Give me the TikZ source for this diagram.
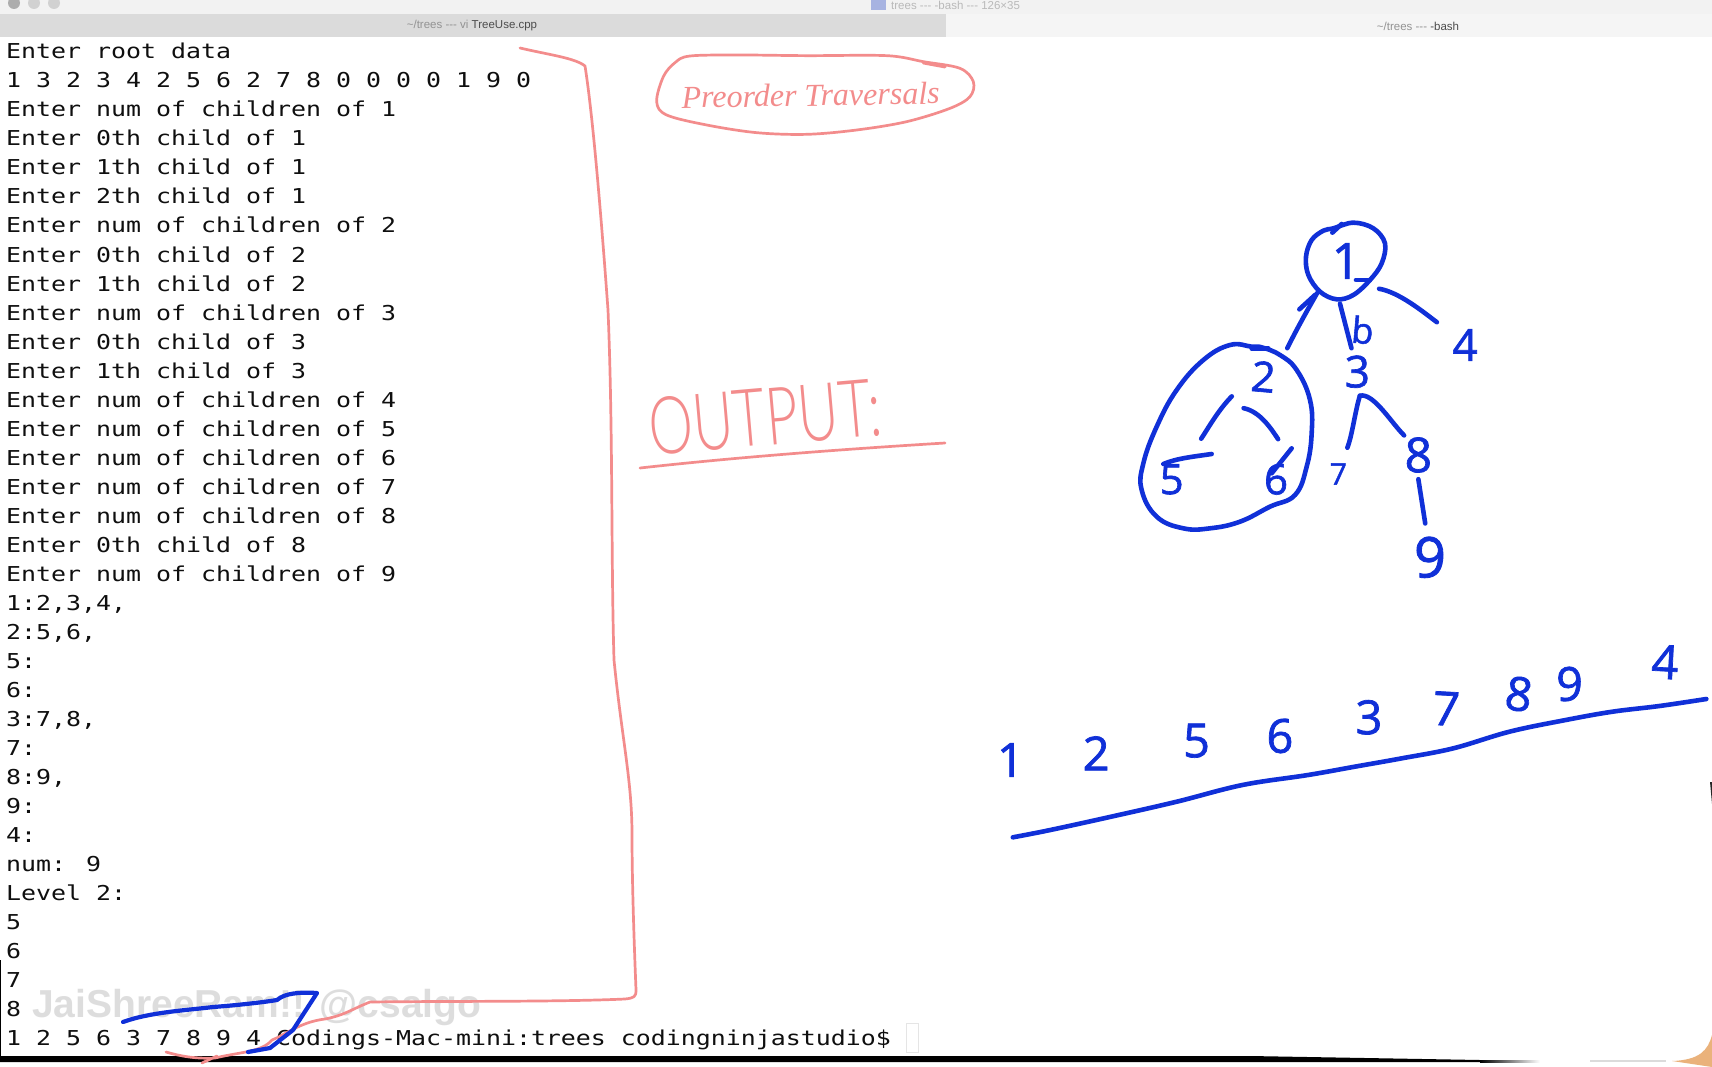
\documentclass[tikz,border=0pt]{standalone}
\usepackage{fontspec}
\usepackage{graphicx}
\usetikzlibrary{calc}
\newfontfamily\termfont[FakeStretch=1.215]{DejaVu Sans Mono}
\newfontfamily\uifont{Liberation Sans}
\newfontfamily\handscript{Liberation Serif}
\newfontfamily\digfont[FakeBold=1.5]{Open Sans}
\newfontfamily\outfont{Lato}[UprightFont=* Light,FakeStretch=.70]
\definecolor{ink}{RGB}{16,48,216}
\definecolor{pen}{RGB}{243,140,140}
\definecolor{termtext}{RGB}{15,15,15}
\tikzset{
  inkline/.style={draw=ink,line width=4.6pt,line cap=round,line join=round},
  penline/.style={draw=pen,line width=2.7pt,line cap=round,line join=round},
  termline/.style={anchor=base west,inner sep=0pt,text=termtext,font=\termfont\fontsize{20.5}{24}\selectfont},
  dig/.style={font=\digfont\fontsize{#1}{#1}\selectfont,text=ink,circle,inner sep=0pt},
  ui/.style={inner sep=0pt,font=\uifont\fontsize{11.5}{13}\selectfont,text=gray!85},
  wmark/.style={anchor=base west,inner sep=0pt,font=\uifont\bfseries\fontsize{39}{41}\selectfont}
}
\newcommand\putline[2]{\node[termline] (t#1) at (6,{30+29*#1}) {#2};}
\begin{document}
\begin{tikzpicture}[x=1pt,y=-1pt]
\useasboundingbox (0,0) rectangle (1712,1067);
\fill[white] (0,0) rectangle (1712,1067);
% window chrome
\fill[black!5] (0,0) rectangle (1712,14);
\fill[black!14] (0,14) rectangle (946,37);
\fill[black!4] (946,14) rectangle (1712,37);
\foreach \cx/\cc in {14/black!32,34/black!18,54/black!18}{\fill[\cc] (\cx,3) circle[radius=6];}
\fill[cyan!35!blue!35!white] (871,0) rectangle (886,10);
\node[ui,anchor=west,text=gray!55] (title) at (891,5) {trees --- -bash --- 126×35};
\node[ui] (tabl) at (472,26) {\textasciitilde/trees --- vi \textcolor{black!70}{TreeUse.cpp}};
\node[ui] (tabr) at (1418,26) {\textasciitilde/trees --- \textcolor{black!70}{-bash}};
% terminal text
\putline{1}{Enter root data}
\putline{2}{1 3 2 3 4 2 5 6 2 7 8 0 0 0 0 1 9 0}
\putline{3}{Enter num of children of 1}
\putline{4}{Enter 0th child of 1}
\putline{5}{Enter 1th child of 1}
\putline{6}{Enter 2th child of 1}
\putline{7}{Enter num of children of 2}
\putline{8}{Enter 0th child of 2}
\putline{9}{Enter 1th child of 2}
\putline{10}{Enter num of children of 3}
\putline{11}{Enter 0th child of 3}
\putline{12}{Enter 1th child of 3}
\putline{13}{Enter num of children of 4}
\putline{14}{Enter num of children of 5}
\putline{15}{Enter num of children of 6}
\putline{16}{Enter num of children of 7}
\putline{17}{Enter num of children of 8}
\putline{18}{Enter 0th child of 8}
\putline{19}{Enter num of children of 9}
\putline{20}{1:2,3,4,}
\putline{21}{2:5,6,}
\putline{22}{5:}
\putline{23}{6:}
\putline{24}{3:7,8,}
\putline{25}{7:}
\putline{26}{8:9,}
\putline{27}{9:}
\putline{28}{4:}
\putline{29}{num: 9}
\putline{30}{Level 2:}
\putline{31}{5}
\putline{32}{6}
\putline{33}{7}
\putline{34}{8}
\putline{35}{1 2 5 6 3 7 8 9 4 Codings-Mac-mini:trees codingninjastudio\$}
\draw[black!10,line width=1pt] (906,1023) rectangle (918,1052);
% bottom edge
\fill[black] (0,1056) -- (1250,1056) -- (1480,1060) -- (1480,1062) -- (0,1062) -- cycle;
\shade[left color=black,right color=white,shading angle=90] (1480,1060) rectangle (1540,1062);
\fill[black!14] (1590,1060) rectangle (1666,1062);
\fill[black] (0,960) rectangle (1,1062);
\fill[orange!45!brown!60!white] (1712,1035) .. controls (1708,1050) and (1700,1060) .. (1672,1061) -- (1712,1067) -- cycle;
\fill[black!85] (1710,782) -- (1712,782) -- (1712,804) -- cycle;
% watermark
\node[wmark,text=black!14,opacity=.92] (wm) at (32,1017) {JaiShreeRam!! @csalgo};
% red ink: bracket
\draw[penline] (520,48) .. controls (550,55) and (575,58) .. (585,66)
  .. controls (592,110) and (600,200) .. (608,310)
  .. controls (613,430) and (611,560) .. (614,660)
  .. controls (622,740) and (632,780) .. (632,835)
  .. controls (632,880) and (634,940) .. (636,990)
  .. controls (636,997) and (634,998) .. (625,999)
  .. controls (560,1002) and (450,1001) .. (370,1002)
  .. controls (350,1010) and (345,1015) .. (325,1019)
  .. controls (300,1022) and (285,1035) .. (272,1040)
  .. controls (262,1052) and (240,1052) .. (215,1058)
  .. controls (195,1059) and (180,1056) .. (166,1052);
\draw[penline] (217,1056) -- (202,1063);
% red ink: title oval
\begin{scope}[shift={(640,40)},scale=.33333]
\draw[penline] plot[smooth cycle,tension=.55] coordinates {(150,48)(300,45)(500,47)(740,47)(850,65)(960,85)(1000,125)(990,170)(930,205)(800,245)(650,270)(500,283)(350,278)(200,255)(80,225)(50,185)(70,110)(105,68)};
\draw[penline,line width=3.5pt] (850,68) -- (915,80);
\node[inner sep=0pt,rotate=1,text=pen,font=\handscript\itshape\fontsize{32}{34}\selectfont] (pre) at (512,165) {Preorder Traversals};
\end{scope}
% red ink: OUTPUT
\node[inner sep=0pt,rotate=5,text=pen,font=\outfont\fontsize{80}{84}\selectfont] (out) at (765,417) {OUTPUT:};
\coordinate (oa) at (640,468);
\coordinate (ob) at (945,443);
\draw[penline] (oa) .. controls (730,458) and (830,450) .. (ob);
% blue tree
\begin{scope}[shift={(1120,200)},scale=.33333]
\node[dig=50,minimum size=86pt] (n1) at (678,183) {1};
\node[dig=42,minimum size=74pt,rotate=-5] (n2) at (430,530) {2};
\node[dig=44,minimum size=48pt] (n3) at (712,515) {3};
\node[dig=44,minimum size=72pt] (n4) at (1035,435) {4};
\node[dig=42,minimum size=100pt] (n5) at (155,838) {5};
\node[dig=42,minimum size=80pt] (n6) at (468,838) {6};
\node[dig=30,minimum size=55pt] (n7) at (655,822) {7};
\node[dig=48,minimum size=48pt] (n8) at (895,765) {8};
\node[dig=56,minimum size=68pt] (n9) at (930,1072) {9};
\node[dig=36,inner sep=0pt,rotate=-5] (lb) at (728,390) {b};
\draw[inkline] plot[smooth cycle,tension=.6] coordinates {(640,85)(700,68)(760,85)(795,130)(785,190)(750,240)(700,285)(650,298)(600,275)(565,225)(558,170)(575,120)(610,92)};
\draw[inkline] (637,98) -- (665,72);
\draw[inkline] (538,328) -- (585,285);
\draw[inkline] (708,240) -- (750,240);
\draw[inkline] plot[smooth cycle,tension=.7] coordinates {(395,440)(330,435)(250,480)(170,570)(110,680)(70,790)(65,870)(110,950)(190,985)(270,985)(360,965)(450,920)(525,885)(560,800)(575,700)(570,600)(530,510)(480,465)(425,442)};
\draw[inkline] (395,445) -- (445,445);
\draw[inkline] (130,792) .. controls (170,775) and (220,770) .. (275,762);
\draw[inkline] (515,745) -- (455,820);
\draw[inkline] (n1.-132) .. controls +(-40,70) and +(25,-50) .. (n2.55);
\draw[inkline] (n1.-98) -- (n3.104);
\draw[inkline] (n1.-40) .. controls +(60,10) and +(-40,-30) .. (n4.141);
\draw[inkline] (n2.-143) .. controls +(-40,40) and +(20,-30) .. (n5.54);
\draw[inkline] (n2.-117) .. controls +(50,10) and +(-20,-30) .. (n6.87);
\draw[inkline] (n3.-84) .. controls +(-15,50) and +(15,-40) .. (n7.71);
\draw[inkline] (n3.-84) .. controls +(40,-10) and +(-40,-40) .. (n8.126);
\draw[inkline] (n8.-90) -- (n9.98);
\end{scope}
% blue sequence
\begin{scope}[shift={(980,620)},xscale=.46860,yscale=.33333]
\foreach \nm/\tx/\px/\py/\rt in {s1/1/65/420/0,s2/2/248/400/0,s3/5/462/362/0,s4/6/640/348/0,s5/3/830/292/0,s6/7/995/266/-3,s7/8/1150/222/-8,s8/9/1258/192/0,s9/4/1462/126/-3}{
  \node[dig=47,rotate=\rt] (\nm) at (\px,\py) {\tx};
}
\draw[inkline] plot[smooth,tension=.6] coordinates {(70,652)(150,630)(280,590)(420,545)(560,495)(700,465)(800,440)(900,415)(1010,385)(1130,335)(1250,300)(1350,275)(1450,258)(1550,237)};
\end{scope}
% blue check over the terminal
\draw[inkline,line width=4.2pt] (123,1022) .. controls (150,1012) and (190,1010) .. (213,1007)
  .. controls (240,1005) and (265,1002) .. (277,1000)
  .. controls (285,993) and (300,992) .. (317,993)
  -- (293,1030) -- (270,1048) -- (248,1052);
\end{tikzpicture}
\end{document}
